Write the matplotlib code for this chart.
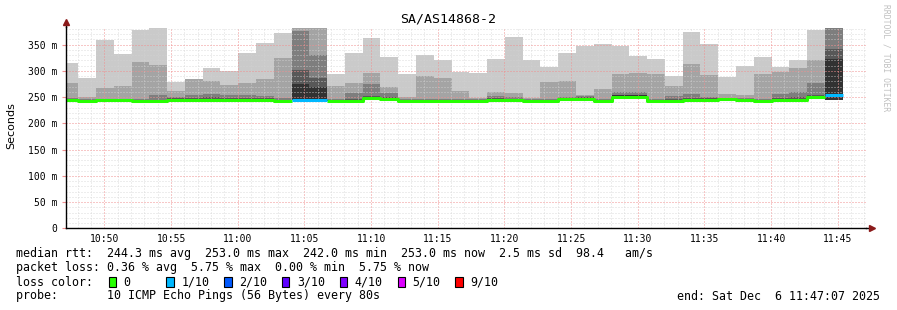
import matplotlib.pyplot as plt
import matplotlib.dates as mdates
from matplotlib.patches import Rectangle
import numpy as np
import pandas as pd

plt.rcParams['font.family'] = 'DejaVu Sans Mono'

# probe rounds, one every 80 s
bar_start = '2025-12-06 10:46:42'
n_bars = 44
edges = pd.date_range(bar_start, periods=n_bars + 1, freq='80s')

# median rtt (ms) per round
median = [244, 243, 244, 244, 243, 242, 244, 244, 244, 244, 244, 244, 243, 245, 244,
          243, 243, 248, 246, 243, 243, 243, 243, 243, 244, 244, 243, 243, 246, 246,
          243, 251, 251, 243, 243, 244, 244, 246, 245, 243, 245, 245, 250, 254]
# lost pings out of 10
loss = [0, 0, 0, 0, 0, 0, 0, 0, 0, 0, 0, 0, 0, 1, 1,
        0, 0, 0, 0, 0, 0, 0, 0, 0, 0, 0, 0, 0, 0, 0,
        0, 0, 0, 0, 0, 0, 0, 0, 0, 0, 0, 0, 0, 1]

# smoke: lowest pings and sorted upper pings (ms)
ping_lo = [243, 242, 243, 243, 242, 241, 243, 243, 243, 243, 243, 243, 242, 244, 243,
           242, 242, 246, 245, 242, 242, 242, 242, 242, 243, 243, 242, 242, 245, 245,
           242, 249, 249, 242, 242, 243, 243, 245, 244, 242, 244, 244, 248, 245]
ping6 = [245, 244, 245, 245, 244, 244, 246, 246, 247, 246, 246, 246, 244, 275, 269,
         244, 245, 250, 248, 244, 244, 244, 244, 244, 246, 246, 244, 244, 247, 248,
         244, 253, 253, 244, 245, 246, 246, 247, 246, 244, 247, 247, 252, 322]
ping7 = [246, 245, 246, 246, 245, 245, 248, 248, 250, 248, 248, 248, 245, 301, 287,
         245, 247, 252, 250, 245, 245, 245, 245, 245, 248, 247, 245, 245, 248, 250,
         245, 254, 254, 245, 247, 248, 248, 248, 247, 245, 249, 250, 254, 341]
ping8 = [249, 246, 247, 247, 247, 254, 251, 253, 256, 254, 254, 252, 248, 376, 330,
         246, 258, 275, 258, 247, 247, 247, 246, 246, 252, 250, 246, 247, 250, 252,
         247, 259, 259, 247, 252, 256, 251, 249, 248, 247, 256, 260, 277, 382]
ping9 = [277, 251, 268, 272, 317, 312, 261, 284, 281, 273, 277, 285, 325, 382, 382,
         272, 277, 296, 270, 250, 290, 287, 262, 248, 260, 258, 248, 279, 281, 254,
         265, 294, 296, 293, 272, 313, 292, 256, 253, 294, 297, 305, 321, 382]
ping10 = [315, 286, 359, 332, 378, 381, 279, 285, 306, 300, 334, 353, 372, 382, 382,
          293, 334, 363, 326, 293, 331, 321, 298, 296, 322, 364, 321, 308, 334, 348,
          351, 347, 329, 323, 290, 374, 351, 288, 309, 327, 307, 321, 377, 382]

loss_labels = ['0', '1/10', '2/10', '3/10', '4/10', '5/10', '9/10']
loss_colors = ['#26ff00', '#00b8ff', '#0059ff', '#5e00ff', '#7e00ff', '#dd00ff', '#ff0000']

W, H = 897, 310
fig = plt.figure(figsize=(W / 100, H / 100), dpi=100)
ax = fig.add_axes([66 / W, 1 - 228.3 / H, 800 / W, (228.3 - 26.7) / H])

x = mdates.date2num(edges)
lo = np.append(ping_lo, ping_lo[-1])
smoke = [(ping10, '#cacaca'), (ping9, '#a4a4a4'), (ping8, '#7e7e7e'),
         (ping7, '#585858'), (ping6, '#323232')]
for top, col in smoke:
    hi = np.append(top, top[-1])
    ax.fill_between(x, lo, hi, step='post', facecolor=col, edgecolor='none',
                    lw=0, zorder=1)

# median line coloured by loss
med = np.array(median + [median[-1]], dtype=float)
lss = np.array(loss + [loss[-1]])
for lv in sorted(set(loss)):
    y = np.where(lss == lv, med, np.nan)
    ax.step(x, y, where='post', color=loss_colors[lv], lw=2.2, zorder=4,
            solid_capstyle='butt')

t0 = mdates.date2num(pd.Timestamp('2025-12-06 10:47:07'))
t1 = mdates.date2num(pd.Timestamp('2025-12-06 11:47:07'))
ax.set_xlim(t0, t1)
ax.set_ylim(0, 384)

ax.xaxis_date()
ax.xaxis.set_major_locator(mdates.MinuteLocator(byminute=range(0, 60, 5)))
ax.xaxis.set_minor_locator(mdates.MinuteLocator())
ax.xaxis.set_major_formatter(mdates.DateFormatter('%H:%M'))
ax.set_yticks(np.arange(0, 351, 50))
ax.set_yticks(np.arange(0, 384, 10), minor=True)
ax.set_yticklabels(['0' if v == 0 else f'{v} m' for v in range(0, 351, 50)])

ax.set_axisbelow(False)
ax.grid(which='minor', color='#d4d4d4', ls=(0, (1, 2)), lw=0.72, alpha=0.8)
ax.grid(which='major', color='#f09090', ls=(0, (1, 2)), lw=0.72)
ax.tick_params(which='both', length=0, labelsize=7, colors='black', pad=4)
ax.tick_params(axis='y', which='major', length=3, color='#f09090', pad=3)

for s in ['top', 'right']:
    ax.spines[s].set_visible(False)
for s in ['left', 'bottom']:
    ax.spines[s].set_linewidth(1.0)
    ax.spines[s].set_zorder(5)

# axis arrows
ax.plot([1, 1.008], [0, 0], transform=ax.transAxes, clip_on=False, color='black', lw=1.0)
ax.plot(1.008, 0, marker='>', ms=4, color='#8b1a1a', transform=ax.transAxes, clip_on=False)
ax.plot([0, 0], [1, 1.02], transform=ax.transAxes, clip_on=False, color='black', lw=1.0)
ax.plot(0, 1.022, marker='^', ms=4, color='#8b1a1a', transform=ax.transAxes, clip_on=False)

fig.text(448 / W, 1 - 19 / H, 'SA/AS14868-2', ha='center', va='center', fontsize=9.5)
fig.text(11 / W, 1 - 126 / H, 'Seconds', ha='center', va='center', rotation=90,
         fontsize=8, family='DejaVu Sans')
fig.text(886 / W, 1 - 4 / H, 'RRDTOOL / TOBI OETIKER', ha='center', va='top',
         rotation=270, fontsize=5.8, color='#c0c0c0')

fs = 8.4
fig.text(16 / W, 1 - 254 / H,
         'median rtt:  244.3 ms avg  253.0 ms max  242.0 ms min  253.0 ms now  2.5 ms sd  98.4   am/s',
         va='center', fontsize=fs)
fig.text(16 / W, 1 - 268 / H,
         'packet loss: 0.36 % avg  5.75 % max  0.00 % min  5.75 % now',
         va='center', fontsize=fs)
fig.text(16 / W, 1 - 282 / H, 'loss color:', va='center', fontsize=fs)
for i, (lab, col) in enumerate(zip(loss_labels, loss_colors)):
    sx = 108.5 + 57.8 * i
    fig.patches.append(Rectangle((sx / W, 1 - 287 / H), 7.5 / W, 10 / H,
                                 transform=fig.transFigure, facecolor=col,
                                 edgecolor='black', lw=0.8))
    fig.text((sx + 15) / W, 1 - 282 / H, lab, va='center', fontsize=fs)
fig.text(16 / W, 1 - 296 / H, 'probe:       10 ICMP Echo Pings (56 Bytes) every 80s',
         va='center', fontsize=fs)
fig.text(880 / W, 1 - 296 / H, 'end: Sat Dec  6 11:47:07 2025', ha='right',
         va='center', fontsize=fs)

fig.savefig('out.png', dpi=100)
